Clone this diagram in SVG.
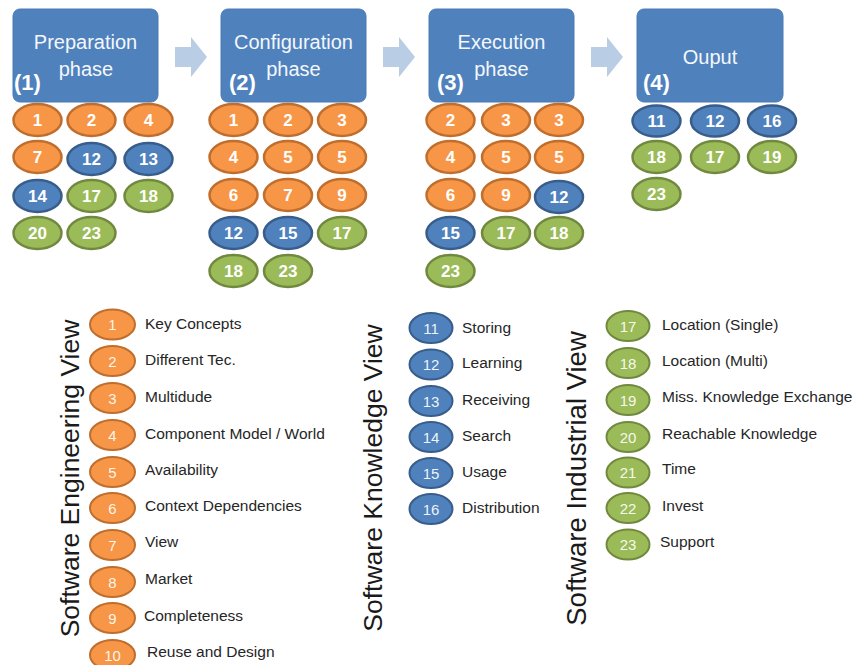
<svg xmlns="http://www.w3.org/2000/svg" width="857" height="665" viewBox="0 0 857 665">
<style>
text{font-family:"Liberation Sans",Arial,sans-serif}
.box{fill:#4F81BD;stroke:#4a7ab5;stroke-width:1}
.bt{fill:#f4f7fb;font-size:20px;text-anchor:middle}
.bn{fill:#ffffff;font-size:22px;font-weight:bold}
.arr{fill:#B9CDE5}
.o{fill:#F79646;stroke:#BF6E2E;stroke-width:2.5}
.b{fill:#4F81BD;stroke:#385D8A;stroke-width:2.5}
.g{fill:#9BBB59;stroke:#71893F;stroke-width:2.5}
.n{fill:#ffffff;font-size:17px;font-weight:bold;text-anchor:middle}
.ln{fill:#ffffff;fill-opacity:0.92;font-size:15px;text-anchor:middle}
.lab{fill:#262626;font-size:15.5px}
.vt{fill:#1a1a1a;font-size:26.5px;text-anchor:middle}
</style>

<g id="phase1">
<rect class="box" x="13" y="9" width="145" height="93" rx="7"/>
<text class="bt" x="85.5" y="49">Preparation</text>
<text class="bt" x="86" y="76">phase</text>
<text class="bn" x="14" y="90">(1)</text>
</g>
<g id="phase2">
<rect class="box" x="221" y="9" width="145" height="93" rx="7"/>
<text class="bt" x="293.5" y="49">Configuration</text>
<text class="bt" x="293.5" y="76">phase</text>
<text class="bn" x="229" y="90">(2)</text>
</g>
<g id="phase3">
<rect class="box" x="429" y="9" width="145" height="93" rx="7"/>
<text class="bt" x="501.5" y="49">Execution</text>
<text class="bt" x="501.5" y="76">phase</text>
<text class="bn" x="437" y="90">(3)</text>
</g>
<g id="phase4">
<rect class="box" x="637" y="9" width="146" height="93" rx="7"/>
<text class="bt" x="710" y="64">Ouput</text>
<text class="bn" x="643" y="90">(4)</text>
</g>

<g id="connectors">
<path class="arr" d="M175,47 H191 V37 L207,57 L191,77 V67 H175 Z"/>
<path class="arr" d="M383,47 H399 V37 L415,57 L399,77 V67 H383 Z"/>
<path class="arr" d="M591,47 H607 V37 L623,57 L607,77 V67 H591 Z"/>
</g>

<g id="phase1-items">
<ellipse class="o" cx="37.5" cy="120" rx="24" ry="16"/><text class="n" x="37.5" y="126">1</text>
<ellipse class="o" cx="91.5" cy="120" rx="24" ry="16"/><text class="n" x="91.5" y="126">2</text>
<ellipse class="o" cx="148.5" cy="120" rx="24" ry="16"/><text class="n" x="148.5" y="126">4</text>
<ellipse class="o" cx="37.5" cy="157" rx="24" ry="16"/><text class="n" x="37.5" y="163">7</text>
<ellipse class="b" cx="91.5" cy="159" rx="24" ry="16"/><text class="n" x="91.5" y="165">12</text>
<ellipse class="b" cx="148.5" cy="159" rx="24" ry="16"/><text class="n" x="148.5" y="165">13</text>
<ellipse class="b" cx="37.5" cy="196" rx="24" ry="16"/><text class="n" x="37.5" y="202">14</text>
<ellipse class="g" cx="91.5" cy="196" rx="24" ry="16"/><text class="n" x="91.5" y="202">17</text>
<ellipse class="g" cx="148.5" cy="196" rx="24" ry="16"/><text class="n" x="148.5" y="202">18</text>
<ellipse class="g" cx="37.5" cy="233" rx="24" ry="16"/><text class="n" x="37.5" y="239">20</text>
<ellipse class="g" cx="91.5" cy="233" rx="24" ry="16"/><text class="n" x="91.5" y="239">23</text>
</g>

<g id="phase2-items">
<ellipse class="o" cx="233.5" cy="120" rx="24" ry="16"/><text class="n" x="233.5" y="126">1</text>
<ellipse class="o" cx="288" cy="120" rx="24" ry="16"/><text class="n" x="288" y="126">2</text>
<ellipse class="o" cx="342" cy="120" rx="24" ry="16"/><text class="n" x="342" y="126">3</text>
<ellipse class="o" cx="233.5" cy="157" rx="24" ry="16"/><text class="n" x="233.5" y="163">4</text>
<ellipse class="o" cx="288" cy="157" rx="24" ry="16"/><text class="n" x="288" y="163">5</text>
<ellipse class="o" cx="342" cy="157" rx="24" ry="16"/><text class="n" x="342" y="163">5</text>
<ellipse class="o" cx="233.5" cy="195" rx="24" ry="16"/><text class="n" x="233.5" y="201">6</text>
<ellipse class="o" cx="288" cy="195" rx="24" ry="16"/><text class="n" x="288" y="201">7</text>
<ellipse class="o" cx="342" cy="195" rx="24" ry="16"/><text class="n" x="342" y="201">9</text>
<ellipse class="b" cx="233.5" cy="233" rx="24" ry="16"/><text class="n" x="233.5" y="239">12</text>
<ellipse class="b" cx="288" cy="233" rx="24" ry="16"/><text class="n" x="288" y="239">15</text>
<ellipse class="g" cx="342" cy="233" rx="24" ry="16"/><text class="n" x="342" y="239">17</text>
<ellipse class="g" cx="233.5" cy="271" rx="24" ry="16"/><text class="n" x="233.5" y="277">18</text>
<ellipse class="g" cx="288" cy="271" rx="24" ry="16"/><text class="n" x="288" y="277">23</text>
</g>

<g id="phase3-items">
<ellipse class="o" cx="450.5" cy="120" rx="24" ry="16"/><text class="n" x="450.5" y="126">2</text>
<ellipse class="o" cx="506" cy="120" rx="24" ry="16"/><text class="n" x="506" y="126">3</text>
<ellipse class="o" cx="559" cy="120" rx="24" ry="16"/><text class="n" x="559" y="126">3</text>
<ellipse class="o" cx="450.5" cy="157" rx="24" ry="16"/><text class="n" x="450.5" y="163">4</text>
<ellipse class="o" cx="506" cy="157" rx="24" ry="16"/><text class="n" x="506" y="163">5</text>
<ellipse class="o" cx="559" cy="157" rx="24" ry="16"/><text class="n" x="559" y="163">5</text>
<ellipse class="o" cx="450.5" cy="195" rx="24" ry="16"/><text class="n" x="450.5" y="201">6</text>
<ellipse class="o" cx="506" cy="195" rx="24" ry="16"/><text class="n" x="506" y="201">9</text>
<ellipse class="b" cx="559" cy="197" rx="24" ry="16"/><text class="n" x="559" y="203">12</text>
<ellipse class="b" cx="450.5" cy="233" rx="24" ry="16"/><text class="n" x="450.5" y="239">15</text>
<ellipse class="g" cx="506" cy="233" rx="24" ry="16"/><text class="n" x="506" y="239">17</text>
<ellipse class="g" cx="559" cy="233" rx="24" ry="16"/><text class="n" x="559" y="239">18</text>
<ellipse class="g" cx="450.5" cy="271" rx="24" ry="16"/><text class="n" x="450.5" y="277">23</text>
</g>

<g id="phase4-items">
<ellipse class="b" cx="656.5" cy="121" rx="24" ry="15.5"/><text class="n" x="656.5" y="127">11</text>
<ellipse class="b" cx="715" cy="121" rx="24" ry="15.5"/><text class="n" x="715" y="127">12</text>
<ellipse class="b" cx="772" cy="121" rx="24" ry="15.5"/><text class="n" x="772" y="127">16</text>
<ellipse class="g" cx="656.5" cy="157" rx="24" ry="16"/><text class="n" x="656.5" y="163">18</text>
<ellipse class="g" cx="715" cy="157" rx="24" ry="16"/><text class="n" x="715" y="163">17</text>
<ellipse class="g" cx="772" cy="157" rx="24" ry="16"/><text class="n" x="772" y="163">19</text>
<ellipse class="g" cx="656.5" cy="194" rx="24" ry="16"/><text class="n" x="656.5" y="200">23</text>
</g>

<g id="legend-engineering">
<text class="vt" transform="translate(79,478.5) rotate(-90)">Software Engineering View</text>
<ellipse class="o" style="stroke-width:2" cx="112.5" cy="324.5" rx="22.5" ry="15"/><text class="ln" x="112.5" y="330">1</text><text class="lab" x="145" y="329">Key Concepts</text>
<ellipse class="o" style="stroke-width:2" cx="112.5" cy="361" rx="22.5" ry="15"/><text class="ln" x="112.5" y="366.5">2</text><text class="lab" x="145" y="365">Different Tec.</text>
<ellipse class="o" style="stroke-width:2" cx="112.5" cy="398" rx="22.5" ry="15"/><text class="ln" x="112.5" y="403.5">3</text><text class="lab" x="145" y="401.5">Multidude</text>
<ellipse class="o" style="stroke-width:2" cx="112.5" cy="435" rx="22.5" ry="15"/><text class="ln" x="112.5" y="440.5">4</text><text class="lab" x="145" y="438.5">Component Model / World</text>
<ellipse class="o" style="stroke-width:2" cx="112.5" cy="472" rx="22.5" ry="15"/><text class="ln" x="112.5" y="477.5">5</text><text class="lab" x="145" y="474.5">Availability</text>
<ellipse class="o" style="stroke-width:2" cx="112.5" cy="508" rx="22.5" ry="15"/><text class="ln" x="112.5" y="513.5">6</text><text class="lab" x="145" y="511">Context Dependencies</text>
<ellipse class="o" style="stroke-width:2" cx="112.5" cy="545" rx="22.5" ry="15"/><text class="ln" x="112.5" y="550.5">7</text><text class="lab" x="145" y="546.5">View</text>
<ellipse class="o" style="stroke-width:2" cx="112.5" cy="582" rx="22.5" ry="15"/><text class="ln" x="112.5" y="587.5">8</text><text class="lab" x="145" y="584">Market</text>
<ellipse class="o" style="stroke-width:2" cx="112.5" cy="618" rx="22.5" ry="15"/><text class="ln" x="112.5" y="623.5">9</text><text class="lab" x="144" y="621">Completeness</text>
<ellipse class="o" style="stroke-width:2" cx="112.5" cy="655" rx="22.5" ry="15"/><text class="ln" x="112.5" y="660.5">10</text><text class="lab" x="147" y="657">Reuse and Design</text>
</g>

<g id="legend-knowledge">
<text class="vt" transform="translate(382,478) rotate(-90)">Software Knowledge View</text>
<ellipse class="b" style="stroke-width:2" cx="431" cy="328" rx="21.5" ry="15"/><text class="ln" x="431" y="333.5">11</text><text class="lab" x="462" y="333">Storing</text>
<ellipse class="b" style="stroke-width:2" cx="431" cy="364.5" rx="21.5" ry="15"/><text class="ln" x="431" y="370">12</text><text class="lab" x="462" y="368">Learning</text>
<ellipse class="b" style="stroke-width:2" cx="431" cy="401" rx="21.5" ry="15"/><text class="ln" x="431" y="406.5">13</text><text class="lab" x="462" y="405">Receiving</text>
<ellipse class="b" style="stroke-width:2" cx="431" cy="437" rx="21.5" ry="15"/><text class="ln" x="431" y="442.5">14</text><text class="lab" x="462" y="441">Search</text>
<ellipse class="b" style="stroke-width:2" cx="431" cy="473" rx="21.5" ry="15"/><text class="ln" x="431" y="478.5">15</text><text class="lab" x="462" y="477">Usage</text>
<ellipse class="b" style="stroke-width:2" cx="431" cy="509" rx="21.5" ry="15"/><text class="ln" x="431" y="514.5">16</text><text class="lab" x="462" y="513">Distribution</text>
</g>

<g id="legend-industrial">
<text class="vt" style="font-size:27.5px" transform="translate(586,478.5) rotate(-90)">Software Industrial View</text>
<ellipse class="g" style="stroke-width:2" cx="628" cy="326" rx="21.5" ry="15"/><text class="ln" x="628" y="331.5">17</text><text class="lab" x="662" y="329.5">Location (Single)</text>
<ellipse class="g" style="stroke-width:2" cx="628" cy="363" rx="21.5" ry="15"/><text class="ln" x="628" y="368.5">18</text><text class="lab" x="662" y="365.5">Location (Multi)</text>
<ellipse class="g" style="stroke-width:2" cx="628" cy="400" rx="21.5" ry="15"/><text class="ln" x="628" y="405.5">19</text><text class="lab" x="662" y="402">Miss. Knowledge Exchange</text>
<ellipse class="g" style="stroke-width:2" cx="628" cy="437" rx="21.5" ry="15"/><text class="ln" x="628" y="442.5">20</text><text class="lab" x="662" y="438.5">Reachable Knowledge</text>
<ellipse class="g" style="stroke-width:2" cx="628" cy="472.5" rx="21.5" ry="15"/><text class="ln" x="628" y="478">21</text><text class="lab" x="662" y="473.5">Time</text>
<ellipse class="g" style="stroke-width:2" cx="628" cy="508" rx="21.5" ry="15"/><text class="ln" x="628" y="513.5">22</text><text class="lab" x="662" y="511">Invest</text>
<ellipse class="g" style="stroke-width:2" cx="628" cy="544.5" rx="21.5" ry="15"/><text class="ln" x="628" y="550">23</text><text class="lab" x="660" y="547">Support</text>
</g>
</svg>
